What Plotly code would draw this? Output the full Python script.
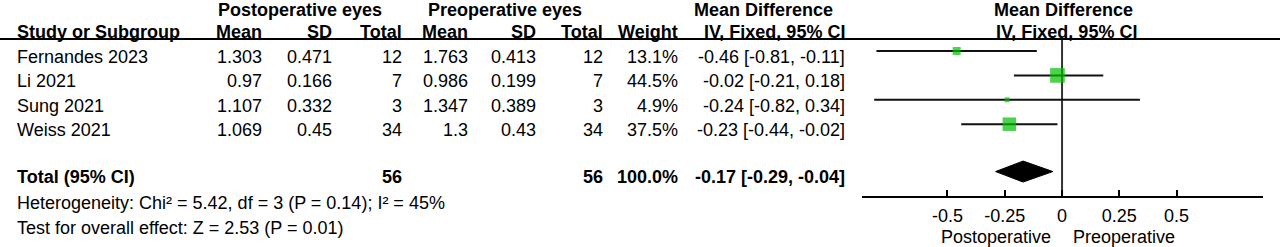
import plotly.graph_objects as go

# ---------------- data ----------------
studies = ["Fernandes 2023", "Li 2021", "Sung 2021", "Weiss 2021"]
post_mean = [1.303, 0.97, 1.107, 1.069]
post_sd = [0.471, 0.166, 0.332, 0.45]
post_n = [12, 7, 3, 34]
pre_mean = [1.763, 0.986, 1.347, 1.3]
pre_sd = [0.413, 0.199, 0.389, 0.43]
pre_n = [12, 7, 3, 34]
weights = [13.1, 44.5, 4.9, 37.5]
md = [-0.46, -0.02, -0.24, -0.23]
ci_low = [-0.81, -0.21, -0.82, -0.44]
ci_high = [-0.11, 0.18, 0.34, -0.02]
total_label = "Total (95% CI)"
total_post_n = 56
total_pre_n = 56
total_weight = 100.0
total_md = -0.17
total_low = -0.29
total_high = -0.04
heterogeneity_text = "Heterogeneity: Chi² = 5.42, df = 3 (P = 0.14); I² = 45%"
overall_text = "Test for overall effect: Z = 2.53 (P = 0.01)"
tick_vals = [-0.5, -0.25, 0, 0.25, 0.5]
tick_text = ["-0.5", "-0.25", "0", "0.25", "0.5"]
favours_left = "Postoperative"
favours_right = "Preoperative"

# ---------------- layout constants ----------------
W, H = 1280, 247
FONT = "Liberation Sans, Arial, Helvetica, sans-serif"
FS = 18
ROW0, ROWH = 57, 24.4
MARK_OFF = 6
GREEN = "#00C000"


def row_y(i):
    return ROW0 + ROWH * i


annotations = []


def txt(xpx, ypx, s, anchor="right", bold=False):
    annotations.append(dict(
        x=xpx / W, xref="paper", y=ypx, yref="y", text=f"<b>{s}</b>" if bold else s,
        xanchor=anchor, yanchor="middle", showarrow=False, borderpad=0,
        font=dict(family=FONT, size=FS, color="black")))


# headers
HY1 = 9.5
txt(300, HY1, "Postoperative eyes", "center", True)
txt(505, HY1, "Preoperative eyes", "center", True)
txt(763, HY1, "Mean Difference", "center", True)
txt(1063, HY1, "Mean Difference", "center", True)
txt(16, 32, "Study or Subgroup", "left", True)
for xr, s in [(263, "Mean"), (333, "SD"), (403, "Total"), (469, "Mean"),
              (537, "SD"), (604, "Total"), (679, "Weight"), (846, "IV, Fixed, 95% CI")]:
    txt(xr, 32, s, "right", True)
txt(1066, 32, "IV, Fixed, 95% CI", "center", True)

# study rows
for i, name in enumerate(studies):
    y = row_y(i)
    txt(16, y, name, "left")
    txt(263, y, str(post_mean[i]))
    txt(333, y, str(post_sd[i]))
    txt(403, y, str(post_n[i]))
    txt(469, y, str(pre_mean[i]))
    txt(537, y, str(pre_sd[i]))
    txt(604, y, str(pre_n[i]))
    txt(679, y, f"{weights[i]:.1f}%")
    txt(846, y, f"{md[i]:.2f} [{ci_low[i]:.2f}, {ci_high[i]:.2f}]")

# total row
ty = row_y(4.9)
txt(16, ty, total_label, "left", True)
txt(403, ty, str(total_post_n), "right", True)
txt(604, ty, str(total_pre_n), "right", True)
txt(679, ty, f"{total_weight:.1f}%", "right", True)
txt(846, ty, f"{total_md:.2f} [{total_low:.2f}, {total_high:.2f}]", "right", True)

txt(16, row_y(6), heterogeneity_text, "left")
txt(16, row_y(7), overall_text, "left")

AXIS_Y = 197
# favours labels (data-x referenced)
for xv, s, anc in [(-0.045, favours_left, "right"), (0.045, favours_right, "left")]:
    annotations.append(dict(x=xv, xref="x", y=237, yref="y", text=s, xanchor=anc,
                            yanchor="middle", showarrow=False, borderpad=0,
                            font=dict(family=FONT, size=FS, color="black")))

fig = go.Figure()

# zero line
fig.add_trace(go.Scatter(x=[0, 0], y=[39, AXIS_Y], mode="lines",
                         line=dict(color="#333333", width=2), hoverinfo="skip"))

# CI lines
cx, cy = [], []
for i in range(len(studies)):
    y = row_y(i) - MARK_OFF
    cx += [ci_low[i], ci_high[i], None]
    cy += [y, y, None]
fig.add_trace(go.Scatter(x=cx, y=cy, mode="lines", line=dict(color="#111111", width=2),
                         hoverinfo="skip"))

# study squares
fig.add_trace(go.Scatter(
    x=md, y=[row_y(i) - MARK_OFF for i in range(len(studies))], mode="markers",
    marker=dict(symbol="square", color=GREEN, size=[2.2 * w ** 0.5 for w in weights],
                line=dict(width=0))))

# diamond
dy = row_y(4.9) - 5
fig.add_trace(go.Scatter(
    x=[total_low, total_md, total_high, total_md, total_low],
    y=[dy, dy - 10.5, dy, dy + 10.5, dy], mode="lines", fill="toself",
    fillcolor="black", line=dict(color="black", width=1), hoverinfo="skip"))

shapes = [dict(type="line", xref="paper", x0=0, x1=1, yref="y", y0=39, y1=39,
               line=dict(color="black", width=2))]

fig.update_layout(
    width=W, height=H, autosize=False, margin=dict(l=0, r=0, t=0, b=0),
    paper_bgcolor="white", plot_bgcolor="rgba(0,0,0,0)", showlegend=False,
    annotations=annotations, shapes=shapes,
    xaxis=dict(domain=[862 / W, 1263 / W], range=[-0.873, 0.877], anchor="free",
               position=(H - AXIS_Y) / H, showline=True, linecolor="black", linewidth=2,
               ticks="inside", ticklen=6, tickwidth=2, tickcolor="black",
               tickvals=tick_vals, ticktext=tick_text, showgrid=False, zeroline=False,
               ticklabelstandoff=2,
               tickfont=dict(family=FONT, size=FS, color="black"), fixedrange=True),
    yaxis=dict(domain=[0, 1], range=[H, 0], visible=False, showgrid=False,
               zeroline=False, fixedrange=True),
)

fig.write_html("out.html")
